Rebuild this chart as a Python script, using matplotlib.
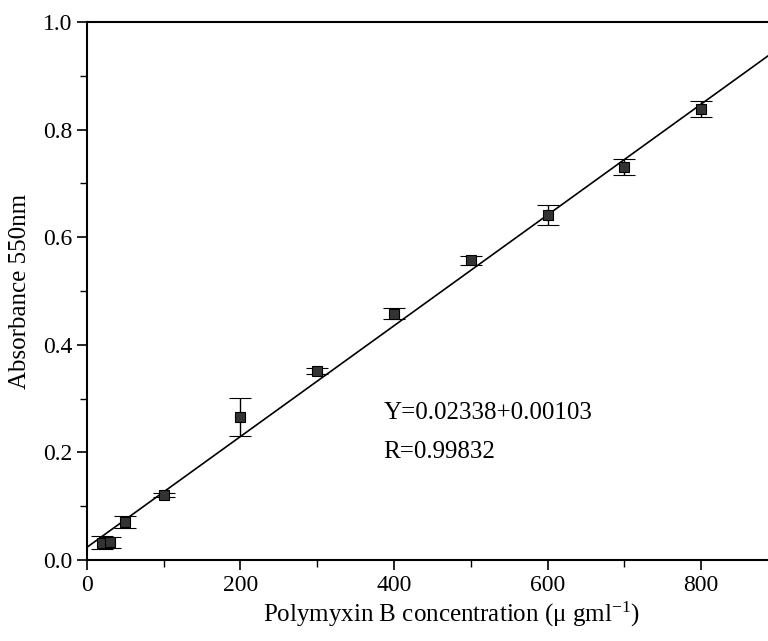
import numpy as np
import matplotlib.pyplot as plt
from matplotlib.ticker import MultipleLocator

conc = [20, 30, 50, 100, 200, 300, 400, 500, 600, 700, 800]
absorb = [0.032, 0.033, 0.070, 0.121, 0.266, 0.351, 0.458, 0.557, 0.641, 0.731, 0.839]
err = [0.012, 0.010, 0.011, 0.004, 0.036, 0.005, 0.010, 0.008, 0.018, 0.015, 0.015]

intercept = 0.02338
slope = 0.00103

plt.rcParams['font.family'] = ['Liberation Serif', 'DejaVu Serif']
plt.rcParams['mathtext.fontset'] = 'stix'
plt.rcParams['mathtext.default'] = 'regular'

fig = plt.figure(figsize=(7.68, 6.41), dpi=100)
# axes runs past the right edge of the picture (cropped look)
ax = fig.add_axes([0.113, 0.1264, 0.95, 0.8393])

# fitted line
xfit = np.array([0, 1000])
ax.plot(xfit, intercept + slope * xfit, color='black', lw=1.2, zorder=2)

ax.errorbar(conc, absorb, yerr=err, fmt='s', color='black', ms=7.5,
            mfc='#333333', mec='black', mew=0.8, ecolor='black',
            elinewidth=1.0, capsize=8, capthick=1.0, zorder=3)

ax.set_xlim(0, 950)
ax.set_ylim(0, 1.0)
ax.xaxis.set_major_locator(MultipleLocator(200))
ax.xaxis.set_minor_locator(MultipleLocator(100))
ax.yaxis.set_major_locator(MultipleLocator(0.2))
ax.yaxis.set_minor_locator(MultipleLocator(0.1))
ax.yaxis.set_major_formatter(plt.FormatStrFormatter('%.1f'))

ax.tick_params(which='major', direction='out', length=7, width=1.2, labelsize=17)
ax.tick_params(which='minor', direction='out', length=5, width=1.0)
ax.spines['right'].set_visible(False)
for s in ['left', 'bottom', 'top']:
    ax.spines[s].set_linewidth(1.5)

ax.set_xlabel(r'Polymyxin B concentration ($\mu$ gml$^{-1}$)', fontsize=18)
ax.xaxis.set_label_coords((452 - 87) / (0.95 * 768), -0.074)
ax.set_ylabel('Absorbance 550nm', fontsize=18)
ax.yaxis.set_label_coords(-0.076, 0.5)

ax.text(386, 0.273, 'Y=0.02338+0.00103', fontsize=18, va='center')
ax.text(386, 0.200, 'R=0.99832', fontsize=18, va='center')

fig.savefig('out.png', dpi=100)
